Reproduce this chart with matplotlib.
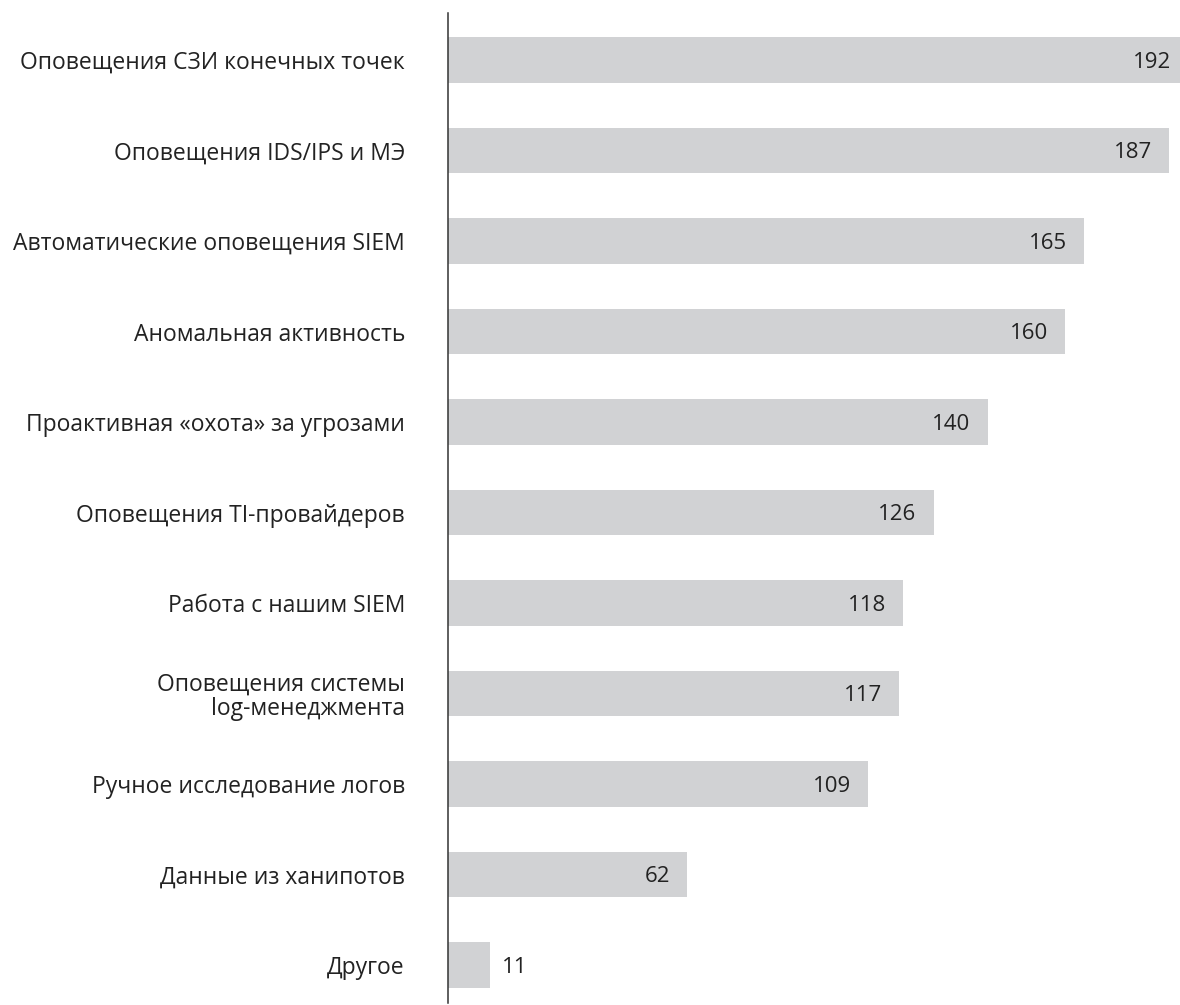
import matplotlib.pyplot as plt

categories = [
    'Оповещения СЗИ конечных точек',
    'Оповещения IDS/IPS и МЭ',
    'Автоматические оповещения SIEM',
    'Аномальная активность',
    'Проактивная «охота» за угрозами',
    'Оповещения TI-провайдеров',
    'Работа с нашим SIEM',
    'Оповещения системы\nlog-менеджмента',
    'Ручное исследование логов',
    'Данные из ханипотов',
    'Другое',
]
values = [192, 187, 165, 160, 140, 126, 118, 117, 109, 62, 11]

plt.rcParams['font.family'] = ['Open Sans', 'DejaVu Sans']

fig = plt.figure(figsize=(11.8, 10.05), dpi=100)
ax = fig.add_axes([448 / 1180, 0.002, 1 - 448 / 1180, 0.985])

pos = list(range(len(categories)))
ax.barh(pos, values, height=0.5, color='#d1d2d4', zorder=1)

ax.set_xlim(0, 189.8)
ax.set_ylim(10.42, -0.52)

ax.set_yticks(pos)
ax.set_yticklabels(categories, fontsize=16.5, color='#222222', ha='right',
                   multialignment='right', linespacing=1.05)
ax.tick_params(axis='y', length=0, pad=31)
ax.set_xticks([])

for side in ['top', 'right', 'bottom']:
    ax.spines[side].set_visible(False)
ax.spines['left'].set_color('#333333')
ax.spines['left'].set_linewidth(1.1)
ax.spines['left'].set_zorder(3)

# value labels: inside near the end, outside for short bars
for y, v in zip(pos, values):
    if v > 30:
        ax.annotate(str(v), (v, y), xytext=(-12.5, -1.5), textcoords='offset points',
                    ha='right', va='center', fontsize=16, color='#222222',
                    annotation_clip=False)
    else:
        ax.annotate(str(v), (v, y), xytext=(8, -1.5), textcoords='offset points',
                    ha='left', va='center', fontsize=16, color='#222222',
                    annotation_clip=False)

fig.savefig('out.png', dpi=100)
